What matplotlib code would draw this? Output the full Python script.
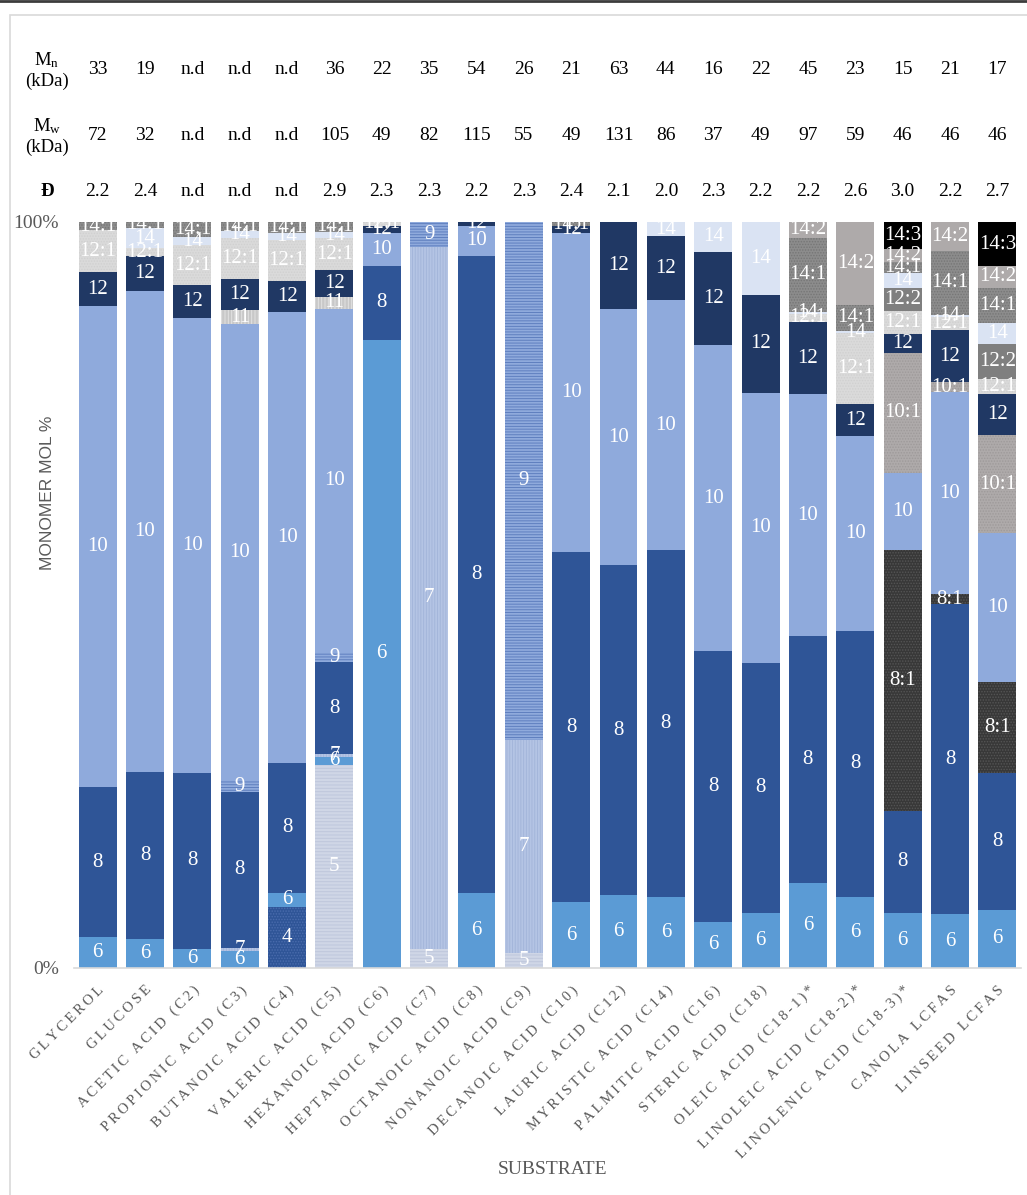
import numpy as np
import matplotlib
matplotlib.use('Agg')
import matplotlib.pyplot as plt
from matplotlib import transforms
from matplotlib.patches import Rectangle
from matplotlib.lines import Line2D

substrates = ['GLYCEROL', 'GLUCOSE', 'ACETIC ACID (C2)', 'PROPIONIC ACID (C3)',
              'BUTANOIC ACID (C4)', 'VALERIC ACID (C5)', 'HEXANOIC ACID (C6)',
              'HEPTANOIC ACID (C7)', 'OCTANOIC ACID (C8)', 'NONANOIC ACID (C9)',
              'DECANOIC ACID (C10)', 'LAURIC ACID (C12)', 'MYRISTIC ACID (C14)',
              'PALMITIC ACID (C16)', 'STERIC ACID (C18)', 'OLEIC ACID (C18-1)*',
              'LINOLEIC ACID (C18-2)*', 'LINOLENIC ACID (C18-3)*', 'CANOLA LCFAS',
              'LINSEED LCFAS']

mn_kda = ['33', '19', 'n.d', 'n.d', 'n.d', '36', '22', '35', '54', '26',
          '21', '63', '44', '16', '22', '45', '23', '15', '21', '17']
mw_kda = ['72', '32', 'n.d', 'n.d', 'n.d', '105', '49', '82', '115', '55',
          '49', '131', '86', '37', '49', '97', '59', '46', '46', '46']
dispersity = ['2.2', '2.4', 'n.d', 'n.d', 'n.d', '2.9', '2.3', '2.3', '2.2', '2.3',
              '2.4', '2.1', '2.0', '2.3', '2.2', '2.2', '2.6', '3.0', '2.2', '2.7']

# monomer composition (mol %) for each substrate, stacked bottom to top
c4 = [0, 0, 0, 0, 8.2, 0, 0, 0, 0, 0, 0, 0, 0, 0, 0, 0, 0, 0, 0, 0]
c5 = [0, 0, 0, 0, 0, 27.2, 0, 2.6, 0, 2.0, 0, 0, 0, 0, 0, 0, 0, 0, 0, 0]
c6 = [4.2, 3.9, 2.5, 2.3, 1.9, 1.1, 84.2, 0, 10.0, 0, 8.8, 9.8, 9.5, 6.2, 7.4, 11.4, 9.5, 7.4, 7.2, 7.8]
c7 = [0, 0, 0, 0.4, 0, 0.4, 0, 94.0, 0, 28.6, 0, 0, 0, 0, 0, 0, 0, 0, 0, 0]
c8 = [20.0, 22.4, 23.7, 20.9, 17.4, 12.3, 9.9, 0, 85.5, 0, 46.9, 44.2, 46.5, 36.3, 33.5, 33.1, 35.7, 13.7, 41.6, 18.4]
c8_1 = [0, 0, 0, 0, 0, 0, 0, 0, 0, 0, 0, 0, 0, 0, 0, 0, 0, 34.9, 1.3, 12.1]
c9 = [0, 0, 0, 1.5, 0, 1.2, 0, 3.4, 0, 69.4, 0, 0, 0, 0, 0, 0, 0, 0, 0, 0]
c10 = [64.5, 64.5, 60.9, 61.2, 60.4, 46.2, 4.4, 0, 4.0, 0, 42.8, 34.3, 33.5, 41.0, 36.2, 32.4, 26.1, 10.3, 27.1, 20.0]
c10_1 = [0, 0, 0, 0, 0, 0, 0, 0, 0, 0, 0, 0, 0, 0, 0, 0, 0, 16.2, 1.3, 13.1]
c11 = [0, 0, 0, 1.9, 0, 1.6, 0, 0, 0, 0, 0, 0, 0, 0, 0, 0, 0, 0, 0, 0]
c12 = [4.6, 4.6, 4.4, 4.2, 4.2, 3.6, 1.0, 0, 0.5, 0, 0.9, 11.7, 8.6, 12.5, 13.1, 9.7, 4.3, 2.5, 7.0, 5.5]
c12_1 = [5.6, 1.1, 5.4, 5.5, 5.5, 4.2, 0.5, 0, 0, 0, 0, 0, 0, 0, 0, 1.1, 9.5, 3.1, 1.8, 2.1]
c12_2 = [0, 0, 0, 0, 0, 0, 0, 0, 0, 0, 0, 0, 0, 0, 0, 0, 0, 3.1, 0, 4.6]
c14 = [0, 2.7, 1.1, 0.9, 0.9, 0.9, 0, 0, 0, 0, 0, 0, 1.9, 4.0, 9.8, 0.3, 0.3, 1.9, 0.3, 2.8]
c14_1 = [1.1, 0.8, 2.0, 1.2, 1.5, 1.3, 0, 0, 0, 0, 0.6, 0, 0, 0, 0, 9.9, 3.5, 1.6, 8.5, 4.8]
c14_2 = [0, 0, 0, 0, 0, 0, 0, 0, 0, 0, 0, 0, 0, 0, 0, 2.1, 11.1, 1.7, 3.9, 2.9]
c14_3 = [0, 0, 0, 0, 0, 0, 0, 0, 0, 0, 0, 0, 0, 0, 0, 0, 0, 3.6, 0, 5.9]

monomers = ['4', '5', '6', '7', '8', '8:1', '9', '10', '10:1', '11',
            '12', '12:1', '12:2', '14', '14:1', '14:2', '14:3']
series = [c4, c5, c6, c7, c8, c8_1, c9, c10, c10_1, c11,
          c12, c12_1, c12_2, c14, c14_1, c14_2, c14_3]

# (fill, hatch, hatch colour) per monomer
styles = [
    ('#2f5597', '......', '#4a6cad'),
    ('#cfd6e6', '-----', '#bec7dc'),
    ('#5b9bd5', None, None),
    ('#b4c4e4', '||||||', '#a4b6da'),
    ('#2f5597', None, None),
    ('#383838', '......', '#555555'),
    ('#8faadc', '------', '#5f7fbf'),
    ('#8faadc', None, None),
    ('#aeaaaa', '......', '#9e9a9a'),
    ('#c8c8c8', '|||||', '#e2e2e2'),
    ('#203864', None, None),
    ('#dadada', '......', '#d0d0d0'),
    ('#7f7f7f', None, None),
    ('#dae3f3', None, None),
    ('#8c8c8c', '......', '#767676'),
    ('#aeaaaa', None, None),
    ('#000000', None, None),
]

serif = ['Liberation Serif', 'DejaVu Serif']
plt.rcParams['font.family'] = serif
plt.rcParams['mathtext.fontset'] = 'custom'
plt.rcParams['mathtext.rm'] = 'Liberation Serif'
plt.rcParams['mathtext.it'] = 'Liberation Serif:italic'
plt.rcParams['hatch.linewidth'] = 0.7

W, H = 1027, 1195
fig = plt.figure(figsize=(W / 100, H / 100), dpi=100)
ax = fig.add_axes([74 / W, (H - 968) / H, 947 / W, 746 / H])

x = np.arange(len(substrates))
bottom = np.zeros(len(substrates))
for name, vals, (fc, hatch, hc) in zip(monomers, series, styles):
    vals = np.array(vals, dtype=float)
    ax.bar(x, vals, 0.8, bottom=bottom, color=fc, hatch=hatch,
           edgecolor=hc if hc else fc, linewidth=0)
    for xi, b, v in zip(x, bottom, vals):
        if v > 0:
            ax.text(xi, b + v / 2, name, ha='center', va='center',
                    color='white', fontsize=15)
    bottom += vals

ax.set_xlim(-0.5, len(substrates) - 0.5)
ax.set_ylim(0, 100)
for side in ['top', 'right', 'left']:
    ax.spines[side].set_visible(False)
ax.spines['bottom'].set_color('#d9d9d9')
ax.spines['bottom'].set_linewidth(1.2)

ax.set_yticks([0, 100])
ax.set_yticklabels(['0%', '100%'])
ax.tick_params(axis='y', length=0, pad=11, labelsize=14, labelcolor='#595959')

# letter-spaced category names
spaced = ['\u2009'.join(s) for s in substrates]
ax.set_xticks(x)
ax.set_xticklabels(spaced, rotation=45, ha='right', rotation_mode='anchor',
                   fontsize=10.5, color='#595959')
ax.tick_params(axis='x', length=0, pad=11)

fig.text(48 / W, 1 - 493 / H, 'MONOMER MOL %', rotation=90, ha='center', va='center',
         family=['Liberation Sans', 'DejaVu Sans'], fontsize=12.5, color='#595959')
fig.text(553 / W, 1 - 1170 / H, 'SUBSTRATE', ha='center', va='center',
         fontsize=14, color='#595959')

# molecular weight table above the bars
trans = transforms.blended_transform_factory(ax.transData, fig.transFigure)
rows = [(70, 'M$_\\mathrm{n}$\n(kDa)', mn_kda),
        (136, 'M$_\\mathrm{w}$\n(kDa)', mw_kda),
        (191, 'Đ', dispersity)]
for ypx, label, vals in rows:
    fig.text(47 / W, 1 - ypx / H, label, ha='center', va='center', fontsize=13.5,
             linespacing=1.15, fontweight='bold' if label == 'Đ' else 'normal')
    for xi, v in zip(x, vals):
        ax.text(xi, 1 - ypx / H, v, transform=trans, ha='center', va='center',
                fontsize=14, color='black')

# chart area border
fig.patches.append(Rectangle((9.5 / W, -0.1), 1.2, 1 - 15 / H + 0.1,
                             transform=fig.transFigure, fill=False,
                             edgecolor='#d9d9d9', linewidth=1.2))
fig.lines.append(Line2D([0, 1], [1 - 1 / H, 1 - 1 / H], transform=fig.transFigure,
                        color='#3c3c3c', linewidth=2))

fig.savefig('out.png', dpi=100)
